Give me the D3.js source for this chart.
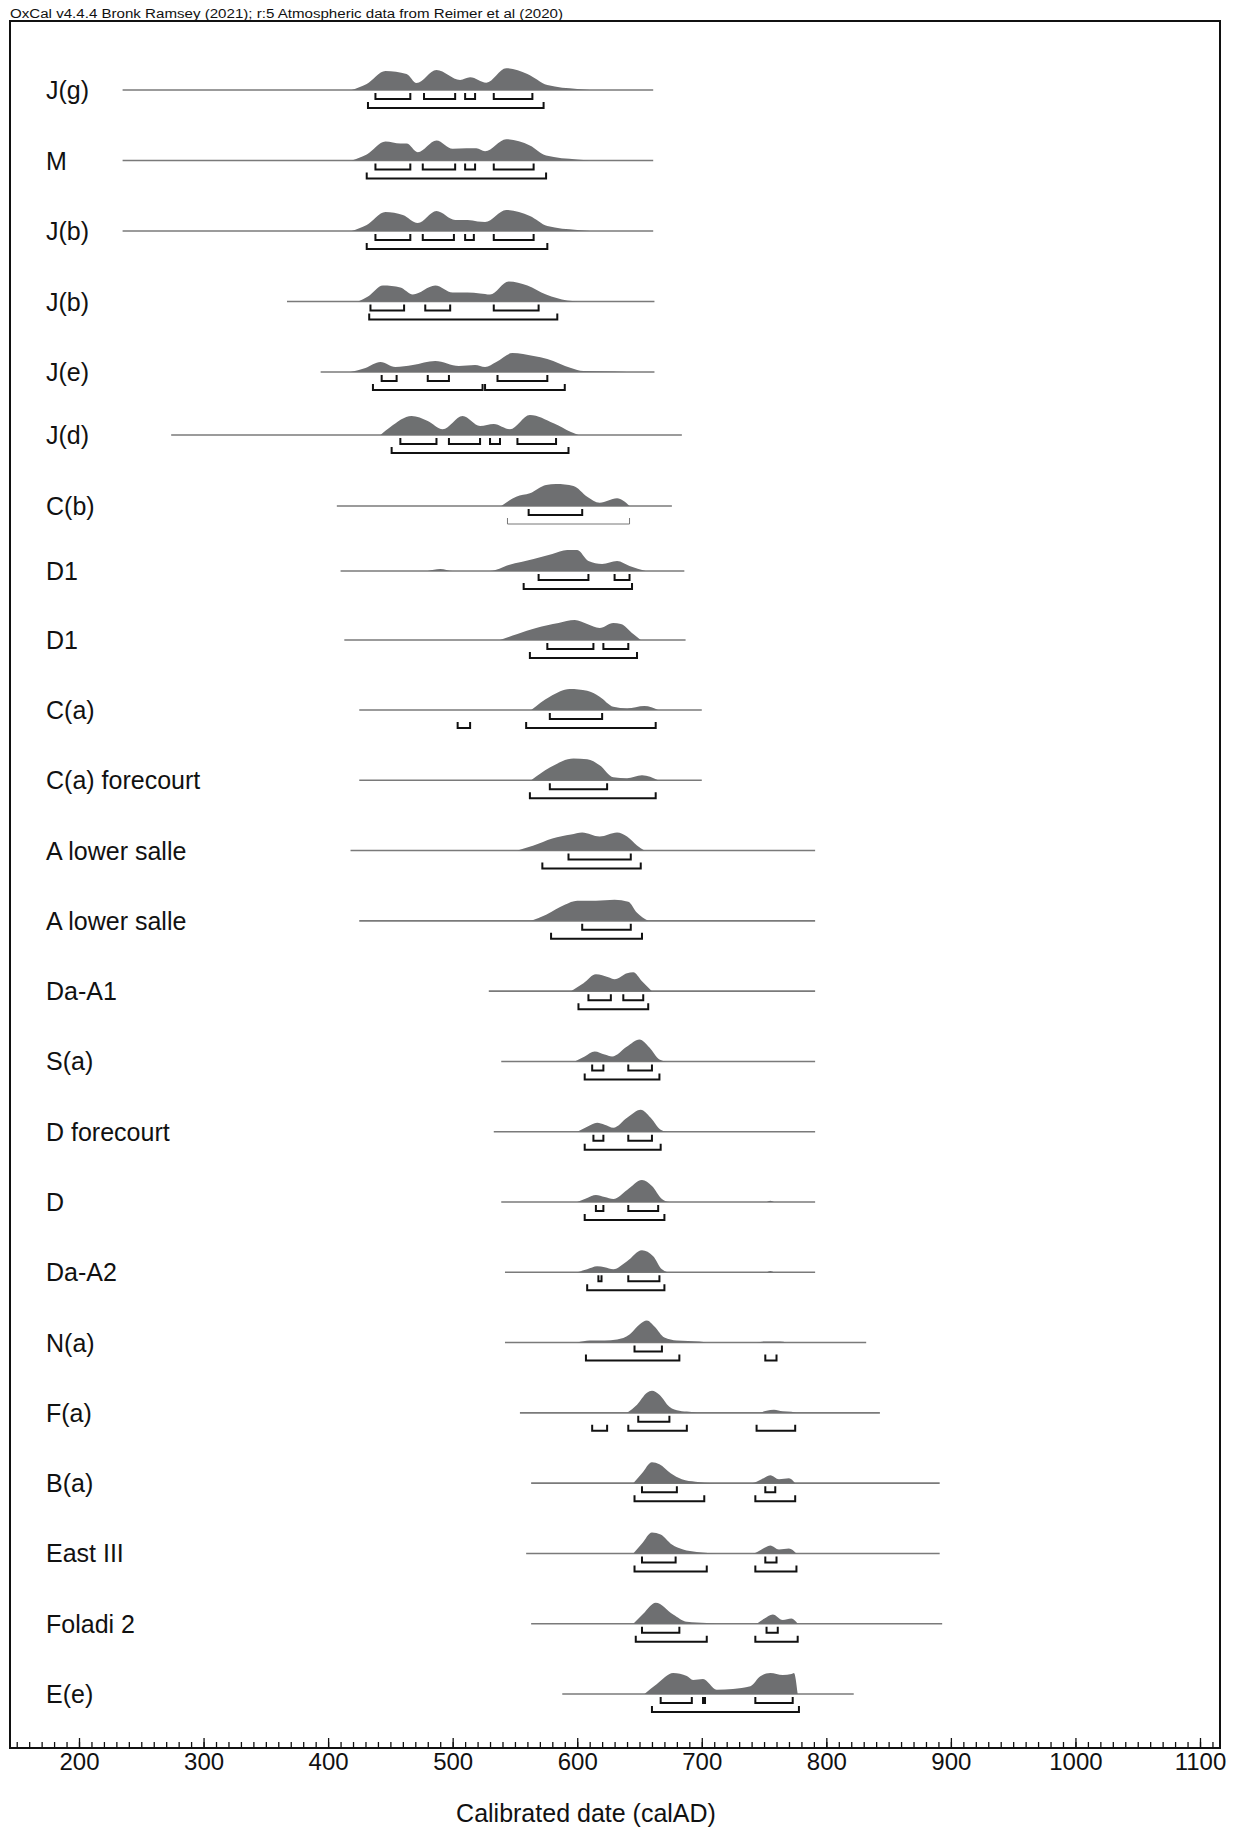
<!DOCTYPE html>
<html>
<head>
<meta charset="utf-8">
<script src="https://cdnjs.cloudflare.com/ajax/libs/d3/7.8.5/d3.min.js"></script>
<style>
  body { margin: 0; background: #fff; }
  text { font-family: "Liberation Sans", Arial, Helvetica, sans-serif; fill: #111; }
</style>
</head>
<body>
<div id="chart"></div>
<script>
var width = 1239, height = 1827;

// sample names, top to bottom
var labels = ["J(g)", "M", "J(b)", "J(b)", "J(e)", "J(d)", "C(b)", "D1", "D1", "C(a)",
  "C(a) forecourt", "A lower salle", "A lower salle", "Da-A1", "S(a)", "D forecourt", "D",
  "Da-A2", "N(a)", "F(a)", "B(a)", "East III", "Foladi 2", "E(e)"];

// extent of the thin line under each distribution (calAD)
var lineRanges = [[235, 661], [235, 661], [235, 661], [367, 662], [394, 662], [274, 684],
  [407, 676], [410, 686], [413, 687], [425, 700], [425, 700], [418, 791], [425, 791],
  [529, 791], [539, 791], [533, 791], [539, 791], [542, 791], [542, 832], [554, 843],
  [563, 891], [559, 891], [563, 893], [588, 822]];

// posterior density outlines, [calAD, relative height]
var densities = [
  [[419,0],[431,6],[446,19],[463,16],[471,7],[487,20],[506,10],[514,12.7],[527,7.3],[543,21.7],[560,16],[576,5],[600,1],[610,0]],
  [[419,0],[431,6],[446,19],[458,17],[463,17],[472,8.3],[487,20],[500,11.7],[511,12.3],[519,12.3],[526,9.3],[543,21.3],[562,15],[575,5],[600,1],[610,0]],
  [[419,0],[431,6],[446,19],[460,16],[472,8],[487,20],[502,11],[512,11],[520,9.5],[526,9],[543,21],[562,15],[576,5],[600,1],[610,0]],
  [[424,0],[432,5],[444,16],[458,14],[468,7],[486,16],[500,9],[512,9],[522,8],[530,7],[545,20],[560,16],[575,7],[592,1],[600,0]],
  [[418,0],[430,4],[442,10],[454,5],[468,7],[486,11],[505,6],[518,7],[526,5],[535,10],[548,19],[565,16],[576,13],[595,4],[605,1],[630,0.5],[640,0]],
  [[442,0],[450,8],[467,19],[480,14],[492,5.7],[508,19],[522,9],[533,11],[546,5.7],[562,20],[581,11.7],[595,3],[601,0]],
  [[539,0],[551,9.3],[562,12.7],[575,21],[583,22],[597,20],[608,9.3],[618,3.3],[632,7.7],[642,0]],
  [[480,0],[490,2],[500,0],[530,0],[545,6],[565,12],[580,17],[592,21],[600,21],[609,10],[620,7],[632,10],[642,5],[655,0]],
  [[538,0],[552,6],[567,12],[585,17],[598,20],[608,16],[618,12],[629,17],[635,16],[645,6],[651,0]],
  [[563,0],[578,13.3],[594,21],[608,19.3],[618,13.3],[629,3.3],[640,1.7],[654,4],[665,0]],
  [[563,0],[578,12.7],[597,21.7],[608,21],[618,15],[629,3],[640,2],[652,5],[665,0]],
  [[552,0],[565,5],[580,12],[595,16],[604,18],[618,14],[632,18],[640,14],[648,5],[654,0]],
  [[563,0],[575,6],[590,16],[600,20],[615,20],[630,21],[641,19],[648,8],[657,0]],
  [[595,0],[605,8],[615,17],[625,14],[630,12],[640,18],[645,19],[652,10],[660,0]],
  [[598,0],[606,5],[614,10],[622,7],[628,5],[640,15],[650,22],[658,14],[666,2],[672,0]],
  [[600,0],[608,5],[616,9],[622,7],[629,4],[640,14],[651,22],[659,14],[667,2],[672,0]],
  [[600,0],[608,4],[615,7],[622,5],[629,3],[640,12],[652,22],[660,16],[668,3],[674,0],[752,0],[755,1.2],[758,0]],
  [[600,0],[608,3],[616,6],[622,5],[629,3],[640,11],[652,22],[661,16],[668,3],[674,0],[752,0],[755,1.2],[758,0]],
  [[600,0],[610,2],[622,2],[632,3],[642,8],[650,18],[656,22],[662,16],[670,5],[680,2],[698,1],[705,0],[744,0],[750,1],[763,1],[768,0]],
  [[640,0],[648,8],[656,20],[660,22],[666,18],[674,6],[682,2],[690,1],[698,0],[745,0],[752,2],[758,3],[765,1.5],[772,1],[776,0]],
  [[645,0],[652,10],[660,21],[666,19],[675,10],[684,4],[695,1.5],[702,0.5],[710,0],[740,0],[748,4],[755,8],[762,4],[770,5],[775,0]],
  [[645,0],[652,10],[660,21],[667,19],[676,9],[685,4],[696,1.5],[705,0.5],[712,0],[741,0],[748,4],[755,8],[762,4],[770,5],[776,0]],
  [[645,0],[653,10],[663,21],[677,9.3],[688,2],[704,0.7],[712,0],[743,0],[750,5],[757,9.3],[765,3.7],[772,5.3],[777,0]],
  [[654,0],[664,10],[677,21],[688,18],[693,14],[701,15],[712,4.3],[725,5],[739,7.7],[747,17.7],[755,21],[765,19],[772,20],[774,21],[777,0]]
];

// 68.2% ranges (upper brackets)
var ranges68 = [
  [[438,466],[477,502],[510,518],[533,564]],
  [[438,466],[476,502],[510,518],[533,565]],
  [[438,466],[476,501],[510,517],[533,565]],
  [[434,461],[478,498],[533,569]],
  [[443,455],[480,497],[536,576]],
  [[458,487],[497,522],[530,538],[552,583]],
  [[561,604]],
  [[569,609],[630,642]],
  [[576,613],[621,641]],
  [[578,620]],
  [[578,624]],
  [[593,643]],
  [[604,643]],
  [[609,627],[637,653]],
  [[612,621],[641,660]],
  [[613,621],[641,660]],
  [[615,621],[641,665]],
  [[617,619.5],[641,666]],
  [[646,668]],
  [[649,674]],
  [[652,680],[751,759]],
  [[652,679],[751,760]],
  [[652,682],[752,761]],
  [[667,692],[701,702.5],[743,773]]
];

// 95.4% ranges (lower brackets)
var ranges95 = [
  [[432,573]],
  [[431,575]],
  [[431,576]],
  [[433,584]],
  [[436,524],[526,590]],
  [[451,593]],
  [[544,642]],
  [[557,644]],
  [[562,648]],
  [[504,514],[559,663]],
  [[562,663]],
  [[572,651]],
  [[579,652]],
  [[601,657]],
  [[606,666]],
  [[606,667]],
  [[606,670]],
  [[608,670]],
  [[607,682],[751,760]],
  [[612,624],[641,688],[744,775]],
  [[646,702],[743,775]],
  [[646,704],[743,776]],
  [[647,704],[743,777]],
  [[660,778]]
];

var majorTicks = [200, 300, 400, 500, 600, 700, 800, 900, 1000, 1100];

// rows with their own look in the original figure
var thinOuterRows = [6];
var blurredRows = [5, 9, 10];

var frame = {left: 10, top: 21, right: 1220, bottom: 1748};

var x = d3.scaleLinear().domain([200, 1100]).range([79, 1200]);
// row placement (the source figure is pasted together, spacing is not quite even)
var rowY = d3.scaleLinear()
    .domain([0, 4, 5, 6, 7, 8, 9, 23])
    .range([90, 372, 435, 506, 571, 640, 710, 1694]);
var hScale = d3.scaleLinear().domain([0, 25]).range([0, 25]);

var svg = d3.select('#chart').append('svg')
    .attr('width', width)
    .attr('height', height);

svg.append('defs').append('filter')
    .attr('id', 'soft')
  .append('feGaussianBlur')
    .attr('stdDeviation', 0.7);

// header
svg.append('text')
    .attr('x', 10)
    .attr('y', 18)
    .attr('font-size', 12)
    .attr('textLength', 553)
    .attr('lengthAdjust', 'spacingAndGlyphs')
    .text('OxCal v4.4.4 Bronk Ramsey (2021); r:5 Atmospheric data from Reimer et al (2020)');

// frame
svg.append('rect')
    .attr('x', frame.left)
    .attr('y', frame.top)
    .attr('width', frame.right - frame.left)
    .attr('height', frame.bottom - frame.top)
    .attr('fill', 'none')
    .attr('stroke', '#111')
    .attr('stroke-width', 2);

var area = d3.area()
    .x(function(d) { return x(d[0]); })
    .y0(0)
    .y1(function(d) { return -hScale(d[1]); })
    .curve(d3.curveMonotoneX);

function bracket(r, y) {
  var x1 = x(r[0]), x2 = Math.max(x(r[1]), x1 + 2);
  return 'M' + x1 + ',' + (y - 6) + 'L' + x1 + ',' + y + 'L' + x2 + ',' + y + 'L' + x2 + ',' + (y - 6);
}

var rows = svg.selectAll('g.row')
    .data(labels)
  .enter().append('g')
    .attr('class', 'row')
    .attr('transform', function(d, i) { return 'translate(0,' + rowY(i) + ')'; });

rows.append('text')
    .attr('x', 46)
    .attr('y', 9)
    .attr('font-size', 25)
    .text(function(d) { return d; });

rows.append('line')
    .attr('x1', function(d, i) { return x(lineRanges[i][0]); })
    .attr('x2', function(d, i) { return x(lineRanges[i][1]); })
    .attr('y1', 0)
    .attr('y2', 0)
    .attr('stroke', '#7a7a7a')
    .attr('stroke-width', 1.6);

rows.append('path')
    .attr('d', function(d, i) { return area(densities[i]); })
    .attr('fill', '#6e6f71')
    .attr('filter', function(d, i) { return blurredRows.indexOf(i) >= 0 ? 'url(#soft)' : null; });

rows.each(function(d, i) {
  var g = d3.select(this);
  g.selectAll('path.r68')
      .data(ranges68[i])
    .enter().append('path')
      .attr('class', 'r68')
      .attr('d', function(r) { return bracket(r, 9); })
      .attr('fill', 'none')
      .attr('stroke', '#111')
      .attr('stroke-width', 2);
  var thin = thinOuterRows.indexOf(i) >= 0;
  g.selectAll('path.r95')
      .data(ranges95[i])
    .enter().append('path')
      .attr('class', 'r95')
      .attr('d', function(r) { return bracket(r, 18); })
      .attr('fill', 'none')
      .attr('stroke', thin ? '#777' : '#111')
      .attr('stroke-width', thin ? 1 : 2);
});

// time axis: minor ticks every 10 years, major every 100, all pointing inward
var minorAxis = d3.axisBottom(x)
    .tickValues(d3.range(150, 1111, 10))
    .tickSize(-6)
    .tickFormat('');
var majorAxis = d3.axisBottom(x)
    .tickValues(majorTicks)
    .tickSize(-10)
    .tickPadding(5)
    .tickFormat(d3.format('d'));

var gMinor = svg.append('g')
    .attr('transform', 'translate(0,' + frame.bottom + ')')
    .call(minorAxis);
var gMajor = svg.append('g')
    .attr('transform', 'translate(0,' + frame.bottom + ')')
    .call(majorAxis);
svg.selectAll('.domain').remove();
svg.selectAll('.tick line').attr('stroke', '#111').attr('stroke-width', 1.3);
gMajor.selectAll('text')
    .attr('font-size', 24)
    .attr('fill', '#111')
    .attr('font-family', '"Liberation Sans", Arial, sans-serif');

svg.append('text')
    .attr('x', 586)
    .attr('y', 1822)
    .attr('text-anchor', 'middle')
    .attr('font-size', 25)
    .text('Calibrated date (calAD)');
</script>
</body>
</html>
